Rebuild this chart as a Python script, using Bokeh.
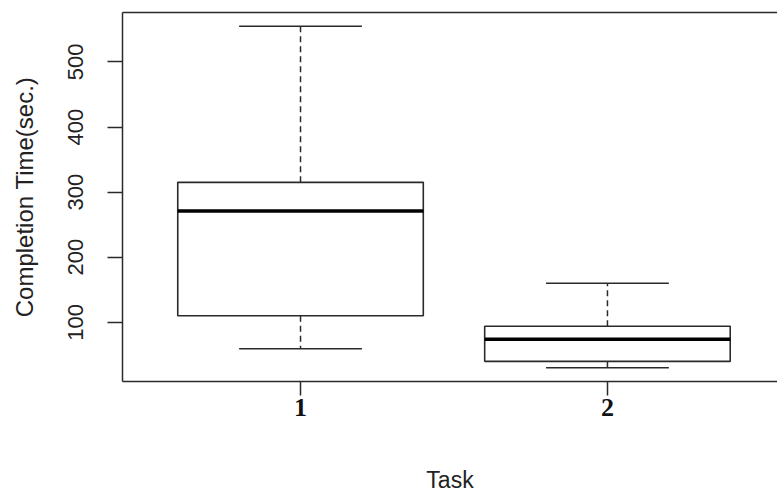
import numpy as np
from bokeh.plotting import figure
from bokeh.models import Range1d, FixedTicker, LinearAxis
from bokeh.embed import file_html
from bokeh.resources import INLINE

# Five-number summaries of completion time per task (seconds)
tasks = [1, 2]
tick_labels = ["1", "2"]
lower_whisker = [59.5, 30]
q1 = [110, 40]
median = [271, 74]
q3 = [315, 94]
upper_whisker = [555, 160]

BOX_W = 0.8      # box width in category units
CAP_W = 0.4      # staple width
LINE = "#2a2a2a"

x = np.array(tasks, dtype=float)

# y-limits padded by 4% of the data range, as in a classic boxplot
lo, hi = min(lower_whisker), max(upper_whisker)
pad = 0.04 * (hi - lo)

p = figure(
    width=777, height=497,
    x_range=Range1d(0.42, 2.554),
    y_range=Range1d(lo - pad, hi + pad),
    output_backend="svg", toolbar_location=None,
    min_border_left=122, min_border_right=0,
    min_border_top=12, min_border_bottom=116,
)
p.outline_line_color = None
p.grid.visible = False
p.background_fill_color = "white"
p.border_fill_color = "white"

# whiskers (dashed) and staples
p.segment(x0=x, x1=x, y0=q3, y1=upper_whisker, line_color=LINE,
          line_width=1.5, line_dash="6 4")
p.segment(x0=x, x1=x, y0=q1, y1=lower_whisker, line_color=LINE,
          line_width=1.5, line_dash="6 4")
p.segment(x0=x - CAP_W / 2, x1=x + CAP_W / 2, y0=upper_whisker, y1=upper_whisker,
          line_color=LINE, line_width=1.5)
p.segment(x0=x - CAP_W / 2, x1=x + CAP_W / 2, y0=lower_whisker, y1=lower_whisker,
          line_color=LINE, line_width=1.5)

# boxes and medians
p.vbar(x=x, width=BOX_W, bottom=q1, top=q3, fill_color="white",
       line_color=LINE, line_width=1.6)
p.segment(x0=x - BOX_W / 2, x1=x + BOX_W / 2, y0=median, y1=median,
          line_color="black", line_width=3.6)

# axes
xa = p.xaxis[0]
xa.ticker = FixedTicker(ticks=tasks)
xa.major_label_overrides = {t: s for t, s in zip(tasks, tick_labels)}
xa.minor_tick_line_color = None
xa.major_tick_out = 14
xa.major_tick_in = 0
xa.major_label_standoff = 3
xa.major_label_text_font = "Liberation Serif"
xa.major_label_text_font_style = "bold"
xa.major_label_text_font_size = "26px"
xa.major_label_text_color = "#111"
xa.axis_line_color = LINE
xa.axis_line_width = 1.5
xa.major_tick_line_color = LINE
xa.major_tick_line_width = 1.5
xa.axis_label = "Task"
xa.axis_label_text_font = "Liberation Sans"
xa.axis_label_text_font_style = "normal"
xa.axis_label_text_font_size = "23px"
xa.axis_label_text_color = "#222"
xa.axis_label_standoff = 48

ya = p.yaxis[0]
ya.ticker = FixedTicker(ticks=[100, 200, 300, 400, 500])
ya.minor_tick_line_color = None
ya.major_tick_out = 15
ya.major_tick_in = 0
ya.major_label_orientation = "vertical"
ya.major_label_standoff = 24
ya.major_label_text_font = "Liberation Sans"
ya.major_label_text_font_size = "22px"
ya.major_label_text_color = "#222"
ya.axis_line_color = LINE
ya.axis_line_width = 1.5
ya.major_tick_line_color = LINE
ya.major_tick_line_width = 1.5
ya.axis_label = "Completion Time(sec.)"
ya.axis_label_text_font = "Liberation Sans"
ya.axis_label_text_font_style = "normal"
ya.axis_label_text_font_size = "24px"
ya.axis_label_text_color = "#222"
ya.axis_label_standoff = 28

# top edge of the plot box
top = LinearAxis(ticker=FixedTicker(ticks=[]), axis_line_color=LINE,
                 axis_line_width=1.5, major_tick_line_color=None,
                 minor_tick_line_color=None, major_label_text_font_size="0px")
p.add_layout(top, "above")

open("out.html", "w").write(file_html(p, INLINE))
